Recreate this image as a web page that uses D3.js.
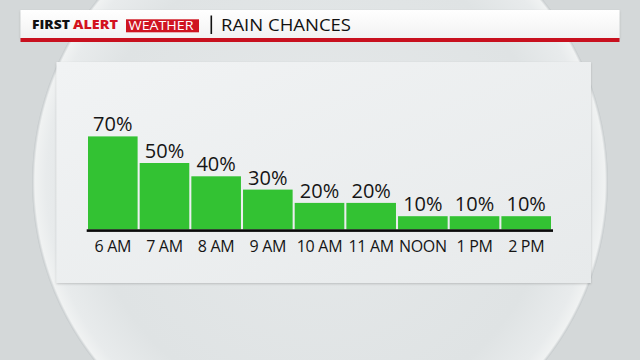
<!DOCTYPE html>
<html>
<head>
<meta charset="utf-8">
<script src="https://cdn.jsdelivr.net/npm/d3@7"></script>
<style>
  html, body { margin: 0; padding: 0; background: #d6dadb; }
  svg { display: block; }
</style>
</head>
<body>
<div id="chart"></div>
<script>
const hours = ["6 AM", "7 AM", "8 AM", "9 AM", "10 AM", "11 AM", "NOON", "1 PM", "2 PM"];
const chances = [70, 50, 40, 30, 20, 20, 10, 10, 10];
const title = "RAIN CHANCES";

const W = 640, H = 360;
const panel = { x: 56.5, y: 62, w: 534.5, h: 221 };

const svg = d3.select("#chart").append("svg")
  .attr("width", W).attr("height", H);

const defs = svg.append("defs");

// background sphere gradient
const rg = defs.append("radialGradient").attr("id", "sphere")
  .attr("cx", "50%").attr("cy", "50%").attr("r", "50%");
rg.append("stop").attr("offset", "0%").attr("stop-color", "#e6e9ea");
rg.append("stop").attr("offset", "80%").attr("stop-color", "#dfe3e4");
rg.append("stop").attr("offset", "95%").attr("stop-color", "#e8ebec");
rg.append("stop").attr("offset", "99%").attr("stop-color", "#f0f2f2");
rg.append("stop").attr("offset", "100%").attr("stop-color", "#c4c9cb");

const pg = defs.append("linearGradient").attr("id", "panelFill")
  .attr("x1", "0").attr("y1", "0").attr("x2", "1").attr("y2", "1");
pg.append("stop").attr("offset", "0%").attr("stop-color", "#f1f3f4");
pg.append("stop").attr("offset", "100%").attr("stop-color", "#e7eaeb");

const hg = defs.append("linearGradient").attr("id", "headFill")
  .attr("x1", "0").attr("y1", "0").attr("x2", "0").attr("y2", "1");
hg.append("stop").attr("offset", "0%").attr("stop-color", "#ffffff");
hg.append("stop").attr("offset", "100%").attr("stop-color", "#f2f2f2");

const blur = defs.append("filter").attr("id", "soft")
  .attr("x", "-10%").attr("y", "-10%").attr("width", "120%").attr("height", "130%");
blur.append("feDropShadow").attr("dx", 0).attr("dy", 1).attr("stdDeviation", 1.2)
  .attr("flood-color", "#000").attr("flood-opacity", 0.18);

// backdrop
svg.append("rect").attr("width", W).attr("height", H).attr("fill", "#d4d8d9");
svg.append("circle").attr("cx", 320).attr("cy", 182).attr("r", 288)
  .attr("fill", "url(#sphere)");

// header strip
svg.append("rect").attr("x", 20.5).attr("y", 10).attr("width", 599).attr("height", 28)
  .attr("fill", "url(#headFill)").attr("filter", "url(#soft)");
svg.append("rect").attr("x", 20.5).attr("y", 38).attr("width", 599).attr("height", 4)
  .attr("fill", "#c8101e");

const head = svg.append("g").style("font-family", "'Open Sans', sans-serif");
head.append("text").attr("x", 32).attr("y", 29)
  .attr("font-size", 12).attr("font-weight", 800)
  .attr("fill", "#111").attr("textLength", 38).attr("lengthAdjust", "spacingAndGlyphs")
  .text("FIRST");
head.append("text").attr("x", 73).attr("y", 29)
  .attr("font-size", 12).attr("font-weight", 800)
  .attr("fill", "#d3121d").attr("textLength", 45).attr("lengthAdjust", "spacingAndGlyphs")
  .text("ALERT");
head.append("rect").attr("x", 126).attr("y", 19.3).attr("width", 73).attr("height", 13)
  .attr("fill", "#cf1420");
head.append("text").attr("x", 128.5).attr("y", 30.3)
  .attr("font-size", 12.5).attr("fill", "#fff")
  .attr("textLength", 65).attr("lengthAdjust", "spacingAndGlyphs")
  .text("WEATHER");
head.append("rect").attr("x", 210.5).attr("y", 15.5).attr("width", 1.6).attr("height", 18.5)
  .attr("fill", "#111");
head.append("text").attr("x", 221).attr("y", 30.7)
  .attr("font-size", 16).attr("fill", "#111")
  .attr("textLength", 130).attr("lengthAdjust", "spacingAndGlyphs")
  .text(title);

// chart panel
svg.append("rect").attr("x", panel.x).attr("y", panel.y)
  .attr("width", panel.w).attr("height", panel.h)
  .attr("fill", "url(#panelFill)").attr("filter", "url(#soft)");

const x = d3.scaleBand().domain(hours).range([88, 551])
  .paddingInner(0.04).paddingOuter(0);
const y = d3.scaleLinear().domain([0, 100]).range([229.5, 96.5]);

const g = svg.append("g").style("font-family", "'Open Sans', sans-serif");

g.selectAll("rect.bar").data(chances).join("rect")
  .attr("class", "bar")
  .attr("x", (d, i) => x(hours[i]))
  .attr("y", d => y(d))
  .attr("width", x.bandwidth())
  .attr("height", d => y(0) - y(d))
  .attr("fill", "#33c233");

g.selectAll("text.val").data(chances).join("text")
  .attr("class", "val")
  .attr("x", (d, i) => x(hours[i]) + x.bandwidth() / 2)
  .attr("y", d => y(d) - 5)
  .attr("text-anchor", "middle")
  .attr("font-size", 20)
  .attr("fill", "#151515")
  .text(d => d + "%");

// baseline
g.append("rect").attr("x", 86.7).attr("y", 229.3)
  .attr("width", 553 - 86.7).attr("height", 2.6).attr("fill", "#0b0b0b");

const xAxis = g.append("g").attr("transform", "translate(0,231)")
  .call(d3.axisBottom(x).tickSize(0).tickPadding(0));
xAxis.select(".domain").remove();
xAxis.selectAll("text")
  .attr("dy", 0).attr("y", 21.3)
  .attr("font-size", 16)
  .attr("fill", "#151515")
  .style("font-family", "'Open Sans', sans-serif")
  .style("letter-spacing", "-0.3px");
</script>
</body>
</html>
